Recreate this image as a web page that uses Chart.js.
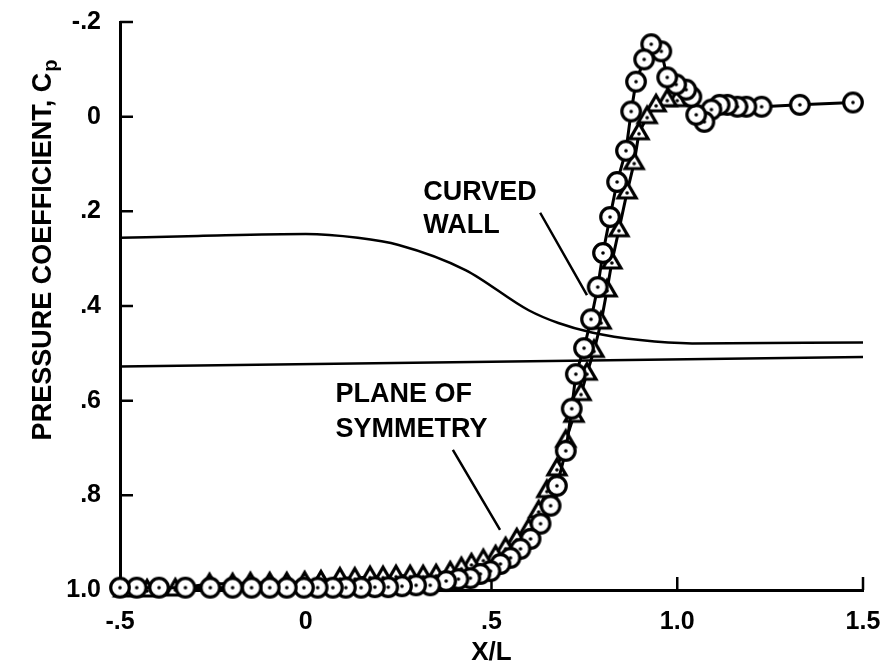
<!DOCTYPE html>
<html>
<head>
<meta charset="utf-8">
<title>Pressure coefficient vs X/L</title>
<script src="https://cdn.jsdelivr.net/npm/chart.js@4.4.1/dist/chart.umd.min.js"></script>
<style>
  html, body { margin: 0; padding: 0; background: #fff; }
  #chart { display: block; }
</style>
</head>
<body>
<canvas id="chart" width="884" height="670"></canvas>
<script>
// Values
const xTicks = [-0.5, 0, 0.5, 1.0, 1.5];
const xTickLabels = ['-.5', '0', '.5', '1.0', '1.5'];
const yTicks = [-0.2, 0, 0.2, 0.4, 0.6, 0.8, 1.0];
const yTickLabels = ['-.2', '0', '.2', '.4', '.6', '.8', '1.0'];

// solid lines
const wallX = [-0.5, -0.29, 0.0, 0.14, 0.25, 0.43, 0.6, 0.68, 0.77, 0.9, 1.04, 1.5];
const wallCp = [0.256, 0.252, 0.248, 0.256, 0.271, 0.324, 0.409, 0.436, 0.456, 0.472, 0.479, 0.477];
const planeX = [-0.5, 1.5];
const planeCp = [0.528, 0.508];

// circle symbols
const circleX = [-0.5, -0.455, -0.395, -0.324, -0.257, -0.197, -0.146, -0.097, -0.051, -0.005,
  0.032, 0.073, 0.108, 0.149, 0.186, 0.222, 0.259, 0.297, 0.335, 0.378,
  0.411, 0.443, 0.470, 0.497, 0.524, 0.551, 0.578, 0.605, 0.632, 0.659,
  0.676, 0.700, 0.716, 0.727, 0.749, 0.768, 0.786, 0.800, 0.819, 0.838,
  0.862, 0.876, 0.889, 0.911, 0.930, 0.957, 0.973, 0.997, 1.024, 1.038,
  1.051, 1.073, 1.092, 1.114, 1.135, 1.162, 1.186, 1.227, 1.33, 1.473];
const circleCp = [0.995, 0.995, 0.995, 0.995, 0.995, 0.995, 0.995, 0.995, 0.995, 0.995,
  0.995, 0.995, 0.995, 0.995, 0.994, 0.994, 0.992, 0.99, 0.99, 0.981,
  0.977, 0.975, 0.966, 0.960, 0.945, 0.932, 0.913, 0.892, 0.860, 0.822,
  0.780, 0.706, 0.617, 0.544, 0.489, 0.428, 0.360, 0.288, 0.212, 0.138,
  0.072, -0.011, -0.074, -0.121, -0.153, -0.138, -0.083, -0.068, -0.057, -0.042,
  -0.004, 0.011, -0.015, -0.025, -0.025, -0.021, -0.021, -0.021, -0.025, -0.03];

// triangle symbols
const triX = [-0.49, -0.427, -0.351, -0.259, -0.197, -0.149, -0.097, -0.051, -0.003, 0.041,
  0.092, 0.132, 0.173, 0.208, 0.243, 0.281, 0.316, 0.351, 0.389, 0.419,
  0.446, 0.478, 0.511, 0.538, 0.568, 0.600, 0.627, 0.649, 0.676, 0.700,
  0.722, 0.741, 0.757, 0.776, 0.795, 0.811, 0.824, 0.843, 0.865, 0.884,
  0.897, 0.919, 0.943, 0.973, 1.0];
const triCp = [1.0, 1.0, 0.998, 0.987, 0.987, 0.985, 0.985, 0.985, 0.983, 0.981,
  0.975, 0.975, 0.972, 0.972, 0.970, 0.970, 0.970, 0.968, 0.962, 0.953,
  0.945, 0.936, 0.928, 0.911, 0.892, 0.871, 0.833, 0.790, 0.744, 0.684,
  0.631, 0.585, 0.542, 0.494, 0.434, 0.366, 0.307, 0.239, 0.159, 0.097,
  0.034, 0.000, -0.025, -0.036, -0.036];

// callout labels (left edge, baseline) and their leader lines, in data units
const noteText = ['CURVED', 'WALL', 'PLANE OF', 'SYMMETRY'];
const noteX = [0.316, 0.316, 0.08, 0.08];
const noteCp = [0.176, 0.246, 0.603, 0.677];
const leaderX1 = [0.631, 0.396];
const leaderCp1 = [0.203, 0.704];
const leaderX2 = [0.757, 0.523];
const leaderCp2 = [0.377, 0.873];

const FONT = "'Liberation Sans', Arial, Helvetica, sans-serif";

function toPoints(xs, ys) {
  return xs.map((x, i) => ({ x: x, y: ys[i] }));
}

// open symbol with a dot in the middle
function makeMarker(kind) {
  const c = document.createElement('canvas');
  c.width = 28;
  c.height = 28;
  const g = c.getContext('2d');
  g.lineWidth = 3.2;
  g.strokeStyle = '#000';
  g.fillStyle = '#fff';
  g.beginPath();
  if (kind === 'circle') {
    g.arc(14, 14, 9.3, 0, Math.PI * 2);
  } else {
    g.moveTo(14, 4.5);
    g.lineTo(23, 20);
    g.lineTo(5, 20);
    g.closePath();
  }
  g.fill();
  g.stroke();
  g.fillStyle = '#000';
  g.beginPath();
  g.arc(14, kind === 'circle' ? 14 : 15, 1.8, 0, Math.PI * 2);
  g.fill();
  return c;
}

// ticks pointing into the plot
const inwardTicks = {
  id: 'inwardTicks',
  beforeDatasetsDraw(chart) {
    const { ctx, chartArea, scales } = chart;
    ctx.save();
    ctx.strokeStyle = '#000';
    ctx.lineWidth = 2.5;
    ctx.beginPath();
    yTicks.forEach(v => {
      const y = scales.y.getPixelForValue(v);
      ctx.moveTo(chartArea.left, y);
      ctx.lineTo(chartArea.left + 13, y);
    });
    xTicks.forEach(v => {
      const x = scales.x.getPixelForValue(v);
      ctx.moveTo(x, chartArea.bottom);
      ctx.lineTo(x, chartArea.bottom - 13);
    });
    ctx.stroke();
    ctx.restore();
  }
};

// callouts and rotated y title with subscript
const extras = {
  id: 'extras',
  afterDraw(chart) {
    const { ctx, scales } = chart;
    ctx.save();
    ctx.fillStyle = '#000';
    ctx.strokeStyle = '#000';
    ctx.lineWidth = 2.5;

    ctx.font = `bold 27px ${FONT}`;
    ctx.textAlign = 'left';
    ctx.textBaseline = 'alphabetic';
    noteText.forEach((t, i) => {
      ctx.fillText(t, scales.x.getPixelForValue(noteX[i]), scales.y.getPixelForValue(noteCp[i]));
    });

    ctx.beginPath();
    leaderX1.forEach((x, i) => {
      ctx.moveTo(scales.x.getPixelForValue(x), scales.y.getPixelForValue(leaderCp1[i]));
      ctx.lineTo(scales.x.getPixelForValue(leaderX2[i]), scales.y.getPixelForValue(leaderCp2[i]));
    });
    ctx.stroke();

    // y axis title
    const main = 'PRESSURE COEFFICIENT, C';
    ctx.font = `bold 27px ${FONT}`;
    const wMain = ctx.measureText(main).width;
    ctx.font = `bold 20px ${FONT}`;
    const wSub = ctx.measureText('p').width;
    const total = wMain + wSub + 1;
    ctx.translate(41, 250);
    ctx.rotate(-Math.PI / 2);
    ctx.font = `bold 27px ${FONT}`;
    ctx.fillText(main, -total / 2, 9.5);
    ctx.font = `bold 20px ${FONT}`;
    ctx.fillText('p', -total / 2 + wMain + 1, 16);
    ctx.restore();
  }
};

const circleMarker = makeMarker('circle');
const triMarker = makeMarker('triangle');

new Chart(document.getElementById('chart'), {
  type: 'scatter',
  data: {
    datasets: [
      {
        label: 'circles',
        data: toPoints(circleX, circleCp).reverse(),
        showLine: true,
        borderColor: '#000',
        borderWidth: 3,
        pointStyle: circleMarker,
        pointRadius: 10,
        clip: false,
        order: 0
      },
      {
        label: 'triangles',
        data: toPoints(triX, triCp).reverse(),
        showLine: true,
        borderColor: '#000',
        borderWidth: 3,
        pointStyle: triMarker,
        pointRadius: 10,
        clip: false,
        order: 1
      },
      {
        label: 'curved wall',
        data: toPoints(wallX, wallCp),
        showLine: true,
        borderColor: '#000',
        borderWidth: 2.5,
        pointRadius: 0,
        cubicInterpolationMode: 'monotone',
        order: 2
      },
      {
        label: 'plane of symmetry',
        data: toPoints(planeX, planeCp),
        showLine: true,
        borderColor: '#000',
        borderWidth: 2.5,
        pointRadius: 0,
        order: 3
      }
    ]
  },
  options: {
    responsive: false,
    animation: false,
    events: [],
    layout: { padding: { top: 22, right: 21, left: 0, bottom: 0 } },
    plugins: {
      legend: { display: false },
      tooltip: { enabled: false }
    },
    scales: {
      x: {
        type: 'linear',
        min: -0.5,
        max: 1.5,
        afterFit: s => {
          s.height = 80;
          s.paddingLeft = 0;
          s.paddingRight = 0;
        },
        afterBuildTicks: s => { s.ticks = xTicks.map(v => ({ value: v })); },
        grid: { display: false, drawTicks: false },
        border: { display: true, color: '#000', width: 3 },
        ticks: {
          color: '#000',
          padding: 17,
          maxRotation: 0,
          font: { family: FONT, size: 25, weight: 'bold' },
          callback: (v, i) => xTickLabels[i]
        },
        title: {
          display: true,
          text: 'X/L',
          color: '#000',
          padding: { top: 0, bottom: 2 },
          font: { family: FONT, size: 26, weight: 'bold' }
        }
      },
      y: {
        type: 'linear',
        reverse: true,
        min: -0.2,
        max: 1.0,
        afterFit: s => {
          s.width = 120;
          s.paddingTop = 0;
          s.paddingBottom = 0;
        },
        afterBuildTicks: s => { s.ticks = yTicks.map(v => ({ value: v })); },
        grid: { display: false, drawTicks: false },
        border: { display: true, color: '#000', width: 3 },
        ticks: {
          color: '#000',
          padding: 19,
          font: { family: FONT, size: 25, weight: 'bold' },
          callback: (v, i) => yTickLabels[i]
        }
      }
    }
  },
  plugins: [inwardTicks, extras]
});
</script>
</body>
</html>
